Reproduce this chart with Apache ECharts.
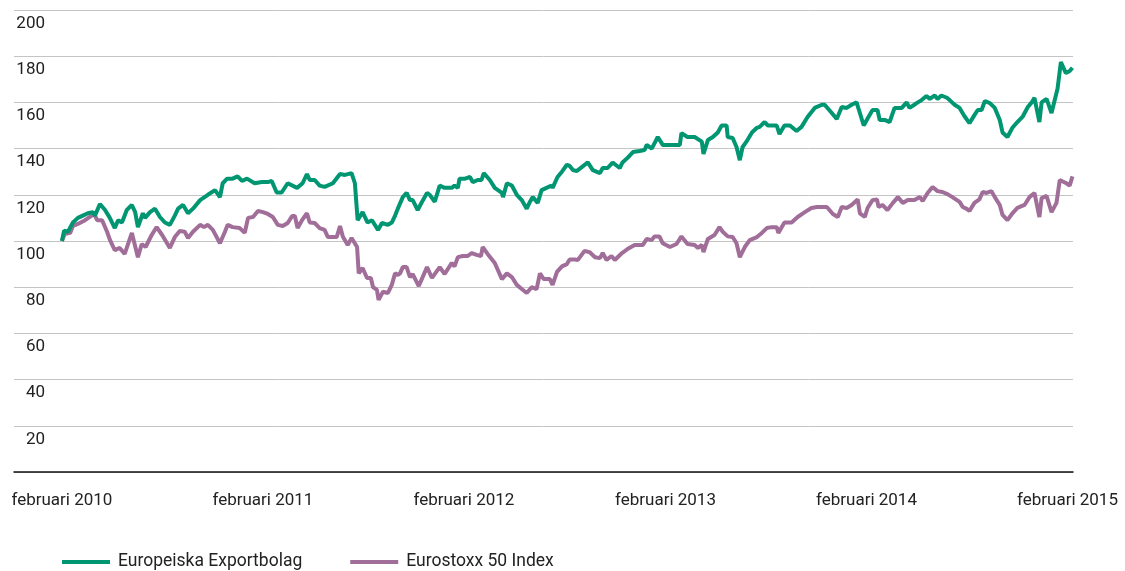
<!DOCTYPE html>
<html><head><meta charset="utf-8">
<script src="https://cdn.jsdelivr.net/npm/echarts@6/dist/echarts.min.js"></script>
<style>html,body{margin:0;padding:0;background:#fff}#c{width:1125px;height:571px}</style>
</head><body><div id="c"></div>
<script>
// x = days since 1 Feb 2010
const seriesNames = ['Europeiska Exportbolag', 'Eurostoxx 50 Index'];
const xTickDays = [0, 365, 730, 1096, 1461, 1826];
const xTickLabels = ['februari 2010', 'februari 2011', 'februari 2012', 'februari 2013', 'februari 2014', 'februari 2015'];
const yTicks = [0, 20, 40, 60, 80, 100, 120, 140, 160, 180, 200];

const exportDays = [0,4,11,20,29,38,47,56,60,69,78,87,96,102,109,118,127,133,138,147,151,160,169,178,187,196,205,211,220,229,238,251,265,278,287,292,300,310,319,327,336,350,363,374,381,390,399,410,427,437,445,450,459,468,477,492,505,514,526,532,537,546,555,563,574,581,592,599,605,610,619,626,632,637,646,654,663,668,677,686,695,708,713,719,722,732,741,746,755,762,766,777,786,799,801,808,817,826,835,844,850,855,864,871,880,889,891,900,908,917,922,928,935,944,955,964,977,982,991,1000,1013,1018,1027,1037,1049,1058,1062,1071,1082,1091,1107,1122,1125,1136,1149,1162,1165,1173,1182,1191,1198,1207,1209,1218,1225,1231,1236,1243,1253,1262,1267,1276,1282,1298,1303,1312,1322,1334,1343,1354,1367,1380,1385,1398,1407,1416,1425,1434,1443,1449,1456,1463,1472,1481,1485,1494,1503,1512,1525,1534,1539,1548,1552,1561,1570,1576,1585,1590,1597,1607,1612,1621,1630,1639,1648,1657,1663,1670,1676,1685,1694,1703,1708,1717,1726,1735,1745,1754,1761,1766,1775,1779,1788,1797,1808,1814,1823,1830,1835];
const exportValues = [100,104.5,104,108,110,111,112,112.5,111,116,113.5,110,105.6,109,108,113.5,115.6,112.5,106,112,110,112.5,114,110.4,108,107,111,114,115.6,112,114,117.7,120,122,119,125,127,127,128,126,127,125,125.5,125.5,126,121,121,125,123,125,129,126.4,126.4,124,123.4,125,129,128.6,129.4,125,109,112.5,108,109,104.8,107.8,107,108,111,114,119,120.8,117.7,117.7,113.4,117,120.8,120,117,124,123,123,124,123,127,127,127.7,125.5,126.4,126.4,129.4,126.4,123,120.8,119,125,124,120,117.7,114,117,119,116.5,122,123,124,123,127.7,130,133,132.5,130.7,130.3,132,134,130.7,129.4,131.6,131.6,134,131.6,134,136,138.5,139,139.4,141.6,140,145,141.6,141.6,141.6,146.7,145,145,143,137.7,143.7,145,147,150,150,145,144.6,140.7,135,140.7,143,147,149,149.4,151.5,150,150,146.3,150,150,147.6,149.4,153.7,157.6,159,159,155.4,152.8,158,157.6,159,160,155.4,150,153,156.7,156.7,152.4,152.4,151.5,157.6,157.6,160,157.6,159,159.7,161,162.8,161.5,163,161.5,163,162,161,159,157.6,154,151,154.5,156.7,156.7,160.6,159.7,157.6,152.4,147,145,149,151.5,154,158,160,162,151.5,160,161.5,155.4,166,177.5,172.7,173.6,175];

const stoxxDays = [0,5,15,20,29,42,54,58,64,73,82,87,96,105,114,127,138,145,152,163,172,182,196,205,214,223,229,238,251,258,265,274,287,296,301,310,323,332,338,347,356,365,374,383,392,401,410,418,423,428,436,445,450,459,468,477,483,499,505,510,519,526,536,539,546,554,561,565,572,575,583,592,599,605,610,614,619,626,632,637,648,663,672,686,695,708,713,719,728,737,744,753,761,764,773,786,799,808,817,826,835,844,853,862,868,875,886,891,899,908,917,922,931,937,949,958,968,977,982,989,998,1004,1017,1027,1040,1055,1062,1071,1076,1085,1091,1104,1116,1125,1136,1149,1155,1162,1165,1173,1185,1194,1200,1209,1218,1225,1231,1240,1249,1262,1271,1280,1289,1298,1301,1312,1325,1336,1349,1361,1371,1380,1389,1400,1409,1416,1425,1434,1445,1449,1458,1463,1472,1480,1483,1490,1499,1509,1518,1527,1536,1548,1558,1563,1572,1581,1590,1599,1608,1617,1630,1636,1643,1648,1657,1666,1672,1679,1688,1694,1703,1708,1717,1726,1735,1748,1757,1766,1775,1779,1788,1797,1806,1812,1824,1830,1835];
const stoxxValues = [100,103,103.5,106.5,107.4,109,111,112,109,109,104,100.6,96,97,94.4,103.5,93,98.7,97.4,102.6,106,102.6,97,101.7,104.3,104,101.3,104,107,106,107,104.8,99,104,107,106,105.6,103.5,110,110.4,113,112.5,111.7,110.4,107,106.5,107.8,110.8,110.8,105.6,109,112,108,107.8,105.6,104.8,101.7,101.7,106.5,102,98.3,101.3,97.4,86,88.3,84,84,80,78.8,74.5,78,77.5,81,86,85.3,86,88.7,88.7,84.4,85.7,80.5,88.7,84,88.7,85.7,90.5,89,93,93.5,93.5,94.8,94,93.5,97.4,94.4,90.5,83.5,86,84.4,81,79.2,77.5,80,79.2,86,83.5,83.5,81,86.6,89,90,92,92,91.8,95.7,95.2,93,92.6,94.8,91.8,93.5,91.8,94.8,96.5,98.3,98.3,100.9,100.4,102,102,99,97.4,98.7,102,98.7,98.3,97,98.3,95.2,100.9,102.6,106,104,102,101.7,99,93,97.4,100.4,101.7,103.5,105.6,106,106,103.5,108,108,110.4,112.5,114.3,114.7,114.7,114.7,111.7,110.4,114.7,114.3,115.6,118,112,110.4,114.3,117.7,118,114.7,115.6,113.4,116.5,119,116.5,117.7,117.7,119,117.3,120.8,123.4,121.6,121.2,120.3,119,116.9,114.7,113.9,113,116.5,118,121.2,120.8,121.6,119,115.6,111.3,109,112,114.3,115.6,119,120.8,110.4,118.6,119.5,112.5,116.5,126.4,125,124,128];

const pair = (xs, ys) => xs.map((x, i) => [x, ys[i]]);
const FONT = 'Roboto, "Liberation Sans", sans-serif';

const chart = echarts.init(document.getElementById('c'), null, {renderer: 'canvas'});
chart.setOption({
  animation: false,
  backgroundColor: '#fff',
  grid: {left: 14, right: 52, top: 10, bottom: 99, containLabel: false},
  legend: {
    left: 62, top: 553, padding: 0, itemWidth: 48, itemHeight: 4, itemGap: 48, icon: 'rect',
    textStyle: {fontFamily: FONT, fontSize: 17.5, color: '#222', padding: [0, 0, 0, 3]},
    data: seriesNames
  },
  xAxis: {
    type: 'value', min: -87, max: 1836,
    splitLine: {show: false},
    axisTick: {show: false},
    axisLine: {show: true, lineStyle: {color: '#111', width: 1.5}},
    axisLabel: {
      customValues: xTickDays,
      margin: 20,
      fontFamily: FONT, fontSize: 17, color: '#222',
      formatter: v => { const i = xTickDays.indexOf(v); return i >= 0 ? xTickLabels[i] : ''; }
    }
  },
  yAxis: {
    type: 'value', min: 0, max: 200, interval: 20,
    axisLine: {show: false}, axisTick: {show: false},
    splitLine: {show: true, lineStyle: {color: '#c4c4c4', width: 1}},
    axisLabel: {
      inside: true, margin: 31, align: 'right', verticalAlign: 'top',
      padding: [5, 0, 0, 0],
      fontFamily: FONT, fontSize: 17, color: '#222',
      formatter: v => (v === 0 ? '' : String(v))
    }
  },
  series: [
    {name: seriesNames[0], type: 'line', data: pair(exportDays, exportValues), showSymbol: false,
     symbol: 'none', lineStyle: {color: '#009672', width: 4}, itemStyle: {color: '#009672'}, z: 3},
    {name: seriesNames[1], type: 'line', data: pair(stoxxDays, stoxxValues), showSymbol: false,
     symbol: 'none', lineStyle: {color: '#a06e98', width: 4}, itemStyle: {color: '#a06e98'}, z: 2}
  ]
});
</script></body></html>
